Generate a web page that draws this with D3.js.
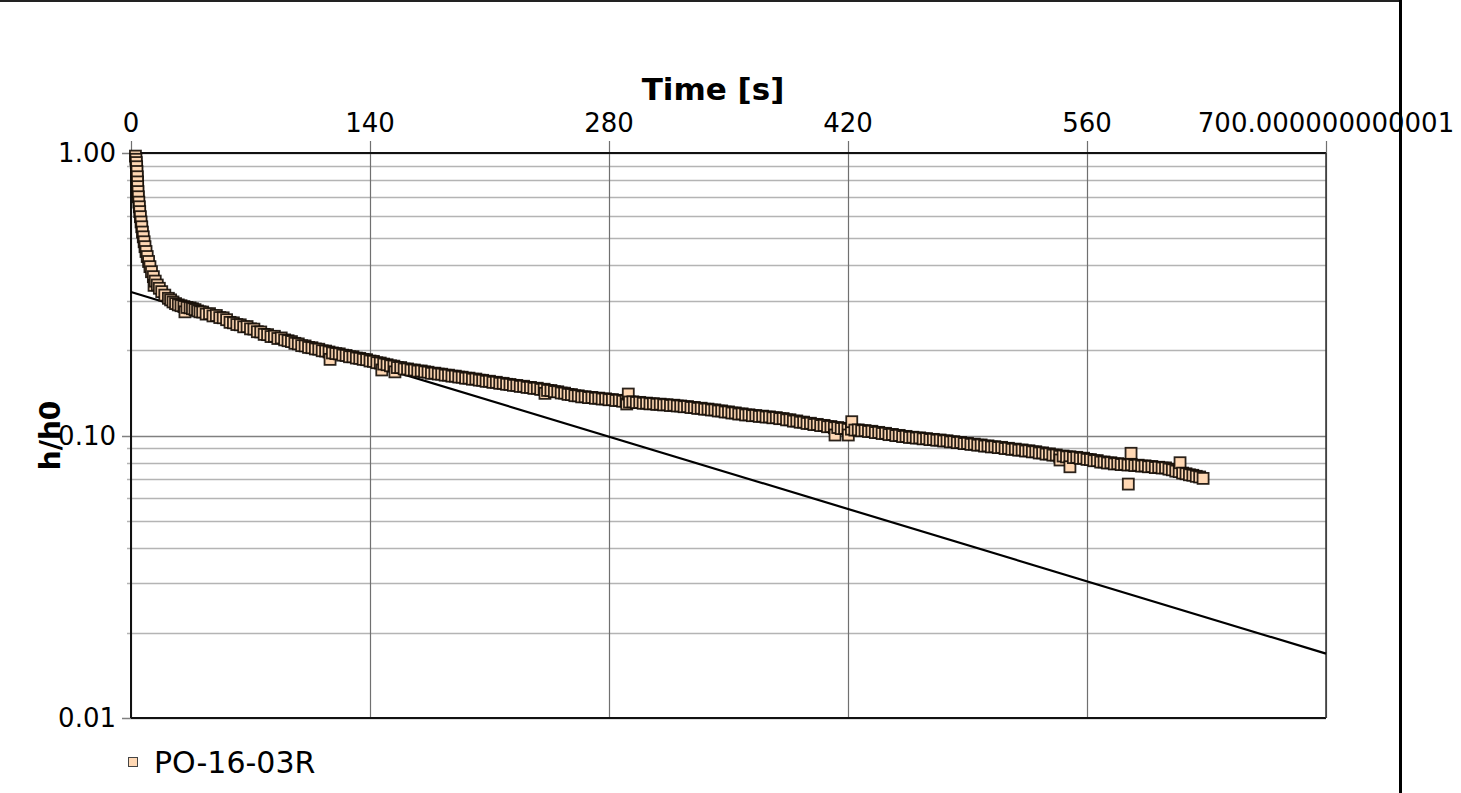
<!DOCTYPE html>
<html>
<head>
<meta charset="utf-8">
<script src="https://cdn.jsdelivr.net/npm/d3@7"></script>
<style>
    body { margin: 0; background: #ffffff; }
    svg text { font-family: "DejaVu Sans", Verdana, sans-serif; fill: #000000; }
</style>
</head>
<body>
<div id="chart"></div>
<script>
// measured time [s]
const times = [
    2.6, 2.9, 3.1, 3.3, 3.5, 3.7, 3.8, 3.9, 4.1, 4.3, 4.6, 4.9, 5.1, 5.5,
    5.9, 6.3, 6.7, 7.2, 7.7, 8.2, 8.8, 9.5, 10.3, 11.1, 12.0, 13.1, 14.2,
    15.4, 16.6, 18.0, 19.8, 21.9, 23.2, 24.6, 26.1, 27.7, 29.3, 31.0, 32.8,
    34.6, 36.0, 37.5, 39.0, 40.4,
    42, 44, 46, 48, 50, 52, 54, 56, 58, 60,
    62, 64, 66, 68, 70, 72, 74, 76, 78, 80,
    82, 84, 86, 88, 90, 92, 94, 96, 98, 100,
    102, 104, 106, 108, 110, 112, 114, 116, 118, 120,
    122, 124, 126, 128, 130, 132, 134, 136, 138, 140,
    142, 144, 146, 148, 150, 152, 154, 156, 158, 160,
    162, 164, 166, 168, 170, 172, 174, 176, 178, 180,
    182, 184, 186, 188, 190, 192, 194, 196, 198, 200,
    202, 204, 206, 208, 210, 212, 214, 216, 218, 220,
    222, 224, 226, 228, 230, 232, 234, 236, 238, 240,
    242, 244, 246, 248, 250, 252, 254, 256, 258, 260,
    262, 264, 266, 268, 270, 272, 274, 276, 278, 280,
    282, 284, 286, 288, 290, 292, 294, 296, 298, 300,
    302, 304, 306, 308, 310, 312, 314, 316, 318, 320,
    322, 324, 326, 328, 330, 332, 334, 336, 338, 340,
    342, 344, 346, 348, 350, 352, 354, 356, 358, 360,
    362, 364, 366, 368, 370, 372, 374, 376, 378, 380,
    382, 384, 386, 388, 390, 392, 394, 396, 398, 400,
    402, 404, 406, 408, 410, 412, 414, 416, 418, 420,
    422, 424, 426, 428, 430, 432, 434, 436, 438, 440,
    442, 444, 446, 448, 450, 452, 454, 456, 458, 460,
    462, 464, 466, 468, 470, 472, 474, 476, 478, 480,
    482, 484, 486, 488, 490, 492, 494, 496, 498, 500,
    502, 504, 506, 508, 510, 512, 514, 516, 518, 520,
    522, 524, 526, 528, 530, 532, 534, 536, 538, 540,
    542, 544, 546, 548, 550, 552, 554, 556, 558, 560,
    562, 564, 566, 568, 570, 572, 574, 576, 578, 580,
    582, 584, 586, 588, 590, 592, 594, 596, 598, 600,
    602, 604, 606, 608, 610, 612, 614, 616, 618, 620,
    622, 624, 626, 628
];

// measured h/h0
const heads = [
    0.975, 0.950, 0.925, 0.894, 0.860, 0.824, 0.790, 0.760, 0.730, 0.700,
    0.670, 0.645, 0.620, 0.595, 0.570, 0.548, 0.525, 0.505, 0.485, 0.466,
    0.448, 0.430, 0.413, 0.396, 0.380, 0.365, 0.352, 0.341, 0.332, 0.323,
    0.314, 0.306, 0.302, 0.297, 0.293, 0.290, 0.288, 0.286, 0.284, 0.283,
    0.281, 0.279, 0.276, 0.274,
    0.2735, 0.2690, 0.2700, 0.2650, 0.2660, 0.2615, 0.2610, 0.2570, 0.2515, 0.2505,
    0.2470, 0.2465, 0.2425, 0.2430, 0.2385, 0.2380, 0.2330, 0.2325, 0.2280, 0.2275,
    0.2240, 0.2245, 0.2205, 0.2215, 0.2180, 0.2165, 0.2150, 0.2120, 0.2110, 0.2080,
    0.2075, 0.2050, 0.2045, 0.2025, 0.2020, 0.1995, 0.1990, 0.1975, 0.1960, 0.1950,
    0.1945, 0.1925, 0.1920, 0.1900, 0.1900, 0.1880, 0.1875, 0.1860, 0.1855, 0.1835,
    0.1830, 0.1810, 0.1805, 0.1790, 0.1780, 0.1765, 0.1760, 0.1740, 0.1740, 0.1720,
    0.1720, 0.1705, 0.1705, 0.1690, 0.1692, 0.1680, 0.1675, 0.1660, 0.1662, 0.1650,
    0.1648, 0.1635, 0.1635, 0.1622, 0.1622, 0.1610, 0.1608, 0.1595, 0.1596, 0.1582,
    0.1584, 0.1570, 0.1568, 0.1555, 0.1556, 0.1542, 0.1543, 0.1530, 0.1530, 0.1518,
    0.1516, 0.1505, 0.1504, 0.1492, 0.1494, 0.1480, 0.1480, 0.1468, 0.1470, 0.1456,
    0.1458, 0.1444, 0.1443, 0.1430, 0.1428, 0.1414, 0.1412, 0.1398, 0.1396, 0.1383,
    0.1382, 0.1370, 0.1372, 0.1362, 0.1364, 0.1354, 0.1356, 0.1346, 0.1348, 0.1338,
    0.1340, 0.1330, 0.1332, 0.1322, 0.1324, 0.1314, 0.1316, 0.1308, 0.1310, 0.1300,
    0.1302, 0.1294, 0.1296, 0.1289, 0.1291, 0.1283, 0.1285, 0.1277, 0.1280, 0.1272,
    0.1272, 0.1264, 0.1266, 0.1256, 0.1257, 0.1247, 0.1249, 0.1239, 0.1240, 0.1231,
    0.1232, 0.1221, 0.1222, 0.1211, 0.1212, 0.1201, 0.1202, 0.1191, 0.1193, 0.1182,
    0.1184, 0.1175, 0.1177, 0.1168, 0.1171, 0.1162, 0.1164, 0.1155, 0.1157, 0.1147,
    0.1148, 0.1136, 0.1137, 0.1124, 0.1126, 0.1114, 0.1115, 0.1103, 0.1105, 0.1093,
    0.1095, 0.1084, 0.1086, 0.1074, 0.1076, 0.1065, 0.1067, 0.1058, 0.1060, 0.1051,
    0.1053, 0.1045, 0.1047, 0.1039, 0.1041, 0.1033, 0.1035, 0.1024, 0.1026, 0.1016,
    0.1018, 0.1007, 0.1009, 0.0999, 0.1001, 0.0991, 0.0993, 0.0984, 0.0986, 0.0979,
    0.0981, 0.0973, 0.0975, 0.0967, 0.0969, 0.0962, 0.0964, 0.0956, 0.0958, 0.0949,
    0.0951, 0.0943, 0.0945, 0.0936, 0.0938, 0.0930, 0.0932, 0.0924, 0.0926, 0.0917,
    0.0919, 0.0911, 0.0913, 0.0906, 0.0908, 0.0899, 0.0901, 0.0893, 0.0895, 0.0887,
    0.0889, 0.0881, 0.0883, 0.0875, 0.0876, 0.0867, 0.0868, 0.0859, 0.0861, 0.0852,
    0.0853, 0.0844, 0.0846, 0.0840, 0.0841, 0.0835, 0.0837, 0.0830, 0.0831, 0.0823,
    0.0822, 0.0814, 0.0815, 0.0805, 0.0806, 0.0799, 0.0801, 0.0793, 0.0795, 0.0789,
    0.0791, 0.0786, 0.0788, 0.0783, 0.0785, 0.0779, 0.0781, 0.0775, 0.0777, 0.0770,
    0.0772, 0.0767, 0.0768, 0.0760, 0.0756, 0.0748, 0.0745, 0.0736, 0.0732, 0.0726,
    0.0723, 0.0717, 0.0713, 0.0705
];

// stray readings that sit off the main trend
const strayTimes = [13.5, 31.6, 116.6, 146.9, 154.6, 242.5, 290.4, 291.3,
                    412.4, 420.2, 422.2, 544.2, 550.0, 584.2, 585.8, 614.5];
const strayHeads = [0.340, 0.274, 0.186, 0.1706, 0.168, 0.141, 0.1293, 0.1402,
                    0.1004, 0.1004, 0.1119, 0.0819, 0.0775, 0.0673, 0.0865, 0.0801];

// straight-line fit, end points [t, h/h0]
const fitLine = [[0, 0.322], [700, 0.0169]];

const xTicks = [0, 140, 280, 420, 560, 700.000000000001];
const yMajor = [0.01, 0.1, 1];
const yMinor = [0.02, 0.03, 0.04, 0.05, 0.06, 0.07, 0.08, 0.09,
                0.2, 0.3, 0.4, 0.5, 0.6, 0.7, 0.8, 0.9];
const seriesName = "PO-16-03R";


window.onload = function() {
    let dims = {w: 1461, h: 793, left: 131, right: 1326, top: 153, bottom: 718};

    let svg = d3.select("#chart")
                .append("svg")
                .attr("width", dims.w)
                .attr("height", dims.h);

    let xScale = d3.scaleLinear()
                   .domain([0, 700])
                   .range([dims.left, dims.right]);

    let yScale = d3.scaleLog()
                   .domain([0.01, 1])
                   .range([dims.bottom, dims.top]);

    // outer frame: top and right edge only
    svg.append("line")
       .attr("x1", 0).attr("x2", 1401)
       .attr("y1", 1).attr("y2", 1)
       .attr("stroke", "#222").attr("stroke-width", 2);
    svg.append("line")
       .attr("x1", 1400.5).attr("x2", 1400.5)
       .attr("y1", 0).attr("y2", dims.h)
       .attr("stroke", "#000").attr("stroke-width", 3);

    // minor horizontal grid
    svg.append("g")
       .selectAll("line")
       .data(yMinor)
       .enter()
       .append("line")
       .attr("x1", dims.left - 4)
       .attr("x2", dims.right)
       .attr("y1", d => Math.round(yScale(d)) + 0.5)
       .attr("y2", d => Math.round(yScale(d)) + 0.5)
       .attr("stroke", "#b4b4b4")
       .attr("stroke-width", 1.3);

    // major horizontal grid
    svg.append("g")
       .selectAll("line")
       .data(yMajor)
       .enter()
       .append("line")
       .attr("x1", dims.left - 9)
       .attr("x2", dims.right)
       .attr("y1", d => Math.round(yScale(d)) + 0.5)
       .attr("y2", d => Math.round(yScale(d)) + 0.5)
       .attr("stroke", "#808080")
       .attr("stroke-width", 1.3);

    // vertical grid and top ticks
    svg.append("g")
       .selectAll("line")
       .data(xTicks)
       .enter()
       .append("line")
       .attr("x1", d => Math.round(xScale(d)) + 0.5)
       .attr("x2", d => Math.round(xScale(d)) + 0.5)
       .attr("y1", dims.top - 12)
       .attr("y2", dims.bottom)
       .attr("stroke", "#707070")
       .attr("stroke-width", 1.2);

    // plot box
    svg.append("line")
       .attr("x1", dims.left).attr("x2", dims.right)
       .attr("y1", dims.top).attr("y2", dims.top)
       .attr("stroke", "#111").attr("stroke-width", 2);
    svg.append("line")
       .attr("x1", dims.left).attr("x2", dims.right)
       .attr("y1", dims.bottom).attr("y2", dims.bottom)
       .attr("stroke", "#111").attr("stroke-width", 2);
    svg.append("line")
       .attr("x1", dims.left).attr("x2", dims.left)
       .attr("y1", dims.top).attr("y2", dims.bottom)
       .attr("stroke", "#111").attr("stroke-width", 2);
    svg.append("line")
       .attr("x1", dims.right).attr("x2", dims.right)
       .attr("y1", dims.top).attr("y2", dims.bottom)
       .attr("stroke", "#333").attr("stroke-width", 1.5);

    // fit line
    svg.append("line")
       .attr("x1", xScale(fitLine[0][0]))
       .attr("y1", yScale(fitLine[0][1]))
       .attr("x2", xScale(fitLine[1][0]))
       .attr("y2", yScale(fitLine[1][1]))
       .attr("stroke", "#000")
       .attr("stroke-width", 2.2);

    // data markers, drawn in time order
    let points = times.map((t, i) => ({t: t, v: heads[i]}))
                      .concat(strayTimes.map((t, i) => ({t: t, v: strayHeads[i]})));
    points.sort((a, b) => a.t - b.t);

    let size = 11;
    svg.append("g")
       .selectAll("rect")
       .data(points)
       .enter()
       .append("rect")
       .attr("x", d => xScale(d.t) - size / 2)
       .attr("y", d => yScale(d.v) - size / 2)
       .attr("width", size)
       .attr("height", size)
       .attr("fill", "#ffd8b4")
       .attr("stroke", "#140c06")
       .attr("stroke-opacity", 0.9)
       .attr("stroke-width", 1.8);

    // top axis labels
    svg.append("g")
       .selectAll("text")
       .data(xTicks)
       .enter()
       .append("text")
       .attr("x", d => xScale(d))
       .attr("y", 132)
       .attr("text-anchor", "middle")
       .style("font-size", "26px")
       .text(d => d === 0 ? "0" : String(d));

    // left axis labels
    svg.append("g")
       .selectAll("text")
       .data(yMajor)
       .enter()
       .append("text")
       .attr("x", 116)
       .attr("y", d => yScale(d))
       .attr("dy", "0.36em")
       .attr("text-anchor", "end")
       .style("font-size", "26px")
       .text(d => d3.format(".2f")(d));

    // axis titles
    svg.append("text")
       .attr("x", 713)
       .attr("y", 100)
       .attr("text-anchor", "middle")
       .style("font-size", "31px")
       .style("font-weight", "bold")
       .text("Time [s]");

    svg.append("text")
       .attr("transform", "translate(60," + yScale(0.1) + ") rotate(-90)")
       .attr("text-anchor", "middle")
       .style("font-size", "28px")
       .style("font-weight", "bold")
       .text("h/h0");

    // legend
    svg.append("rect")
       .attr("x", 128.5).attr("y", 757.5)
       .attr("width", 9).attr("height", 9)
       .attr("fill", "#ffd8b4")
       .attr("stroke", "#444")
       .attr("stroke-width", 1);
    svg.append("text")
       .attr("x", 154)
       .attr("y", 773)
       .style("font-size", "30px")
       .text(seriesName);
};
</script>
</body>
</html>
